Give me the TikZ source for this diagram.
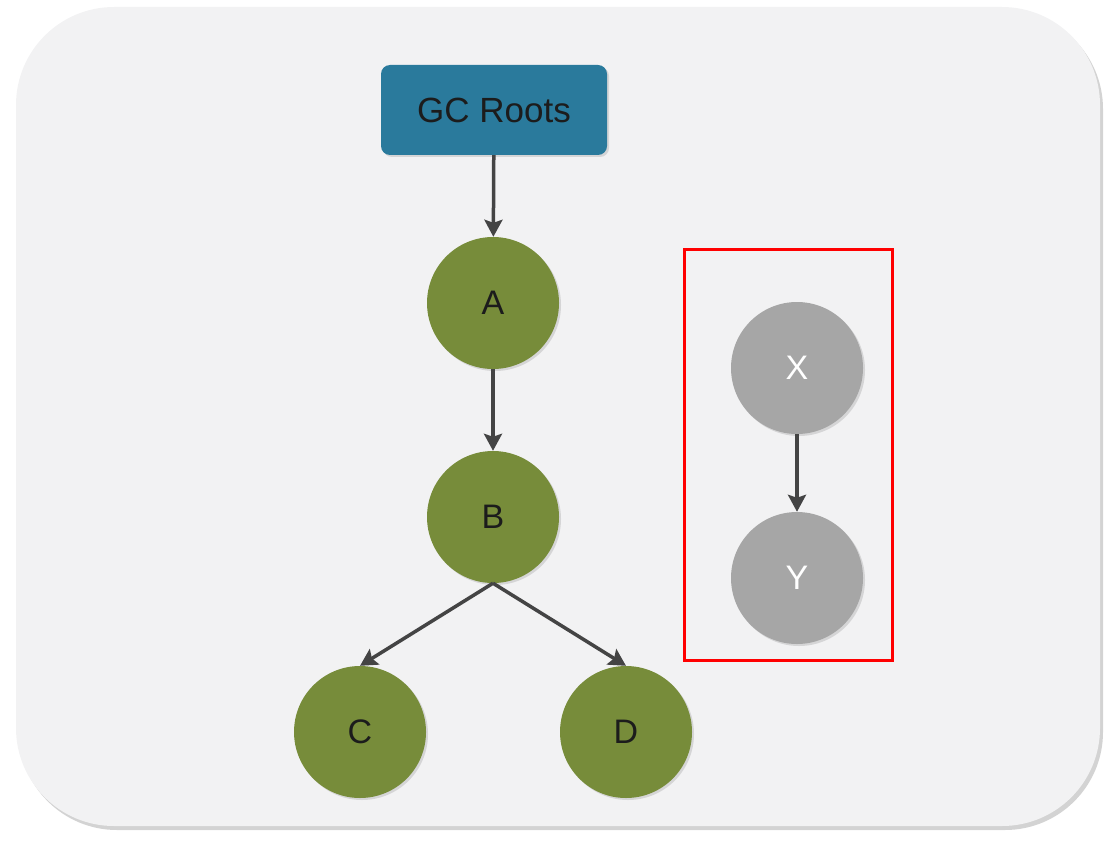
\documentclass[tikz,border=0pt]{standalone}
\usepackage{fontspec}
\setmainfont{Liberation Sans}
\usepackage{tikz}
\usetikzlibrary{arrows.meta,positioning,shadows}
\definecolor{rootblue}{HTML}{2A7A9C}
\definecolor{liveolive}{HTML}{778C3A}
\definecolor{deadgray}{HTML}{A6A6A6}
\definecolor{panelgray}{HTML}{F2F2F3}
\definecolor{arrowgray}{HTML}{444444}
\definecolor{labelblack}{HTML}{1C1C1C}

\begin{document}
\begin{tikzpicture}[x=1pt,y=-1pt,
  panel/.style={fill=panelgray,rounded corners=98pt,
                minimum width=1084pt,minimum height=819pt,
                drop shadow={shadow xshift=3pt,shadow yshift=-4pt,opacity=0.35}},
  root/.style={fill=rootblue,rounded corners=9pt,
               minimum width=226pt,minimum height=90pt,text=labelblack,
               font=\fontsize{35}{40}\selectfont,
               drop shadow={shadow xshift=2pt,shadow yshift=-2pt,opacity=0.25}},
  obj/.style={circle,fill=#1,minimum size=132pt,inner sep=0pt,
              font=\fontsize{34}{40}\selectfont,
              drop shadow={shadow xshift=2pt,shadow yshift=-2pt,opacity=0.25}},
  arrow/.style={-{Stealth[length=17pt,width=18pt,inset=3pt]},line width=3.5pt,color=arrowgray}
]
\useasboundingbox (0,0) rectangle (1107,845);
\node[panel] (panel) at (558,416.5) {};

% reachable from the roots
\node[root] (roots) at (494,110) {GC Roots};
\node[obj=liveolive,text=labelblack] (a) at (493,303) {A};
\node[obj=liveolive,text=labelblack] (b) at (493,517) {B};
\node[obj=liveolive,text=labelblack] (c) at (360,732) {C};
\node[obj=liveolive,text=labelblack] (d) at (626,732) {D};

% unreachable pair
\node[draw=red,line width=3pt,minimum width=208pt,minimum height=411pt] (garbage) at (788,454.5) {};
\node[obj=deadgray,text=white] (x) at (797,368) {X};
\node[obj=deadgray,text=white] (y) at (797,578) {Y};

\draw[arrow] (roots) -- (a);
\draw[arrow] (a) -- (b);
\draw[arrow] (b.south) -- (c.north);
\draw[arrow] (b.south) -- (d.north);
\draw[arrow] (x) -- (y);
\end{tikzpicture}
\end{document}
